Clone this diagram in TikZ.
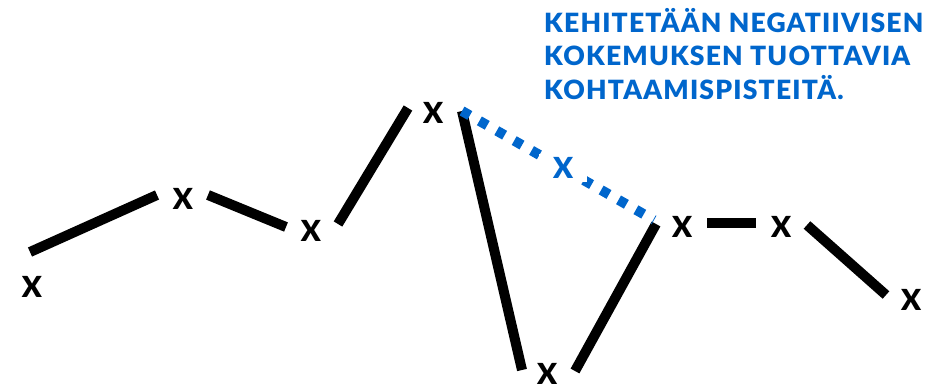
\documentclass[tikz,border=0pt]{standalone}
\usepackage{fontspec}
\setmainfont{Lato}[BoldFont={Lato Bold}]
\newfontfamily\latoblk{Lato Black}
\newfontfamily\latocap{Lato Black}[LetterSpace=4.5]
\definecolor{myblue}{RGB}{0,102,204}
\begin{document}
\begin{tikzpicture}[x=1pt,y=-1pt,
  xlab/.style={font=\latoblk\fontsize{29}{34}\selectfont, inner sep=0pt},
  seg/.style={line width=10pt, line cap=butt},
  dotline/.style={myblue, line width=10pt, dash pattern=on 9pt off 11pt},
  caption/.style={myblue, font=\latocap\fontsize{26.5}{33}\selectfont, anchor=base west, inner sep=0pt}]
\useasboundingbox (0,0) rectangle (937,389);

% caption
\node[caption] (t1) at (544,32) {KEHITETÄÄN NEGATIIVISEN};
\node[caption] (t2) at (544,65.5) {KOKEMUKSEN TUOTTAVIA};
\node[caption] (t3) at (544,99) {KOHTAAMISPISTEITÄ.};

% segment end points
\coordinate (a1) at (30,252);  \coordinate (a2) at (157,195);
\coordinate (b1) at (208,195); \coordinate (b2) at (286,227);
\coordinate (c1) at (338,224); \coordinate (c2) at (408,108);
\coordinate (d1) at (462,111); \coordinate (d2) at (522,370);
\coordinate (e1) at (575,371); \coordinate (e2) at (656,224);
\coordinate (f1) at (707,223); \coordinate (f2) at (756,223);
\coordinate (g1) at (807,225); \coordinate (g2) at (886,295);
\coordinate (h1) at (462,111); \coordinate (h2) at (654,220);

\draw[seg] (a1) -- (a2);
\draw[seg] (b1) -- (b2);
\draw[seg] (c1) -- (c2);
\draw[seg] (d1) -- (d2);
\draw[seg] (e1) -- (e2);
\draw[seg] (f1) -- (f2);
\draw[seg] (g1) -- (g2);
\draw[dotline] (h1) -- (h2);

% labels
\node[xlab] (x1) at (32,287) {X};
\node[xlab] (x2) at (183,199) {X};
\node[xlab] (x3) at (311,231) {X};
\node[xlab] (x4) at (433,113) {X};
\node[xlab, text=myblue, fill=white, inner xsep=14pt, inner ysep=3pt] (x5) at (563,168) {X};
\node[xlab] (x6) at (682,227) {X};
\node[xlab] (x7) at (781,227) {X};
\node[xlab] (x8) at (911,300) {X};
\node[xlab] (x9) at (547,374) {X};
\end{tikzpicture}
\end{document}
